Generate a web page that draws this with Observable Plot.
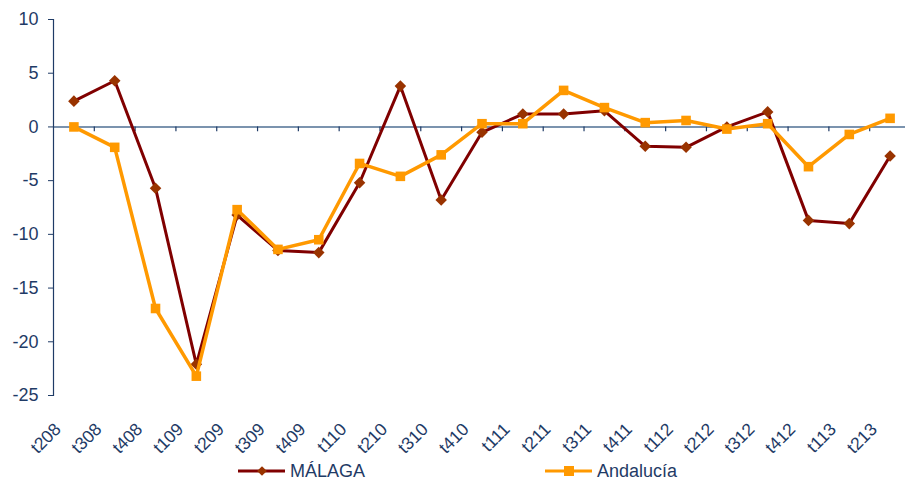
<!DOCTYPE html>
<html>
<head>
<meta charset="utf-8">
<script src="https://cdn.jsdelivr.net/npm/d3@7"></script>
<script src="https://cdn.jsdelivr.net/npm/@observablehq/plot@0.6"></script>
<style>
  body { margin: 0; background: #fff; font-family: "Liberation Sans", Arial, sans-serif; }
  #wrap { position: relative; width: 905px; height: 481px; }
  #legend { position: absolute; left: 0; top: 456px; width: 905px; height: 25px; }
  #legend svg { display: block; }
</style>
</head>
<body>
<div id="wrap">
  <div id="chart"></div>
  <div id="legend"></div>
</div>
<script>
const quarters = ["t208","t308","t408","t109","t209","t309","t409","t110","t210","t310","t410","t111","t211","t311","t411","t112","t212","t312","t412","t113","t213"];
const malaga = [2.4, 4.3, -5.7, -22.1, -8.2, -11.5, -11.7, -5.2, 3.8, -6.8, -0.5, 1.2, 1.2, 1.5, -1.8, -1.9, 0.0, 1.4, -8.7, -9.0, -2.7];
const andalucia = [0.0, -1.9, -16.9, -23.2, -7.7, -11.4, -10.5, -3.4, -4.6, -2.6, 0.3, 0.3, 3.4, 1.8, 0.4, 0.6, -0.2, 0.3, -3.7, -0.7, 0.8];
const yTicks = [10, 5, 0, -5, -10, -15, -20, -25];
const seriesNames = ["MÁLAGA", "Andalucía"];

const navy = "#1f3b66";
const maroon = "#800000";
const maroonMarker = "#993300";
const orange = "#FF9900";

const dataM = quarters.map((q, i) => ({q, v: malaga[i]}));
const dataA = quarters.map((q, i) => ({q, v: andalucia[i]}));

const xRange = [53, 910];
const bw = (xRange[1] - xRange[0]) / quarters.length;

const chart = Plot.plot({
  width: 905,
  height: 456,
  marginLeft: 53,
  marginRight: 0,
  marginTop: 19,
  marginBottom: 61,
  style: {fontFamily: "'Liberation Sans', Arial, sans-serif", fontSize: "18px", color: navy, background: "#fff"},
  x: {type: "band", domain: quarters, range: xRange, padding: 0, round: false, label: null},
  y: {domain: [-25, 10], ticks: yTicks, label: null},
  marks: [
    Plot.ruleY([0], {stroke: "#4f6f93", strokeWidth: 1.5}),
    Plot.ruleX(quarters.slice(1), {x: d => d, y1: 0, y2: -0.45, dx: -bw / 2, stroke: navy, strokeWidth: 1.2}),
    Plot.frame({anchor: "left", stroke: navy, strokeWidth: 1.2}),
    Plot.axisY({ticks: yTicks, tickSize: 5, tickPadding: 10, fontSize: 18, stroke: navy, fill: navy, label: null, tickFormat: d => String(d)}),
    Plot.axisX({tickSize: 0, tickRotate: -45, tickPadding: 31, dx: -16, fontSize: 17.5, fill: navy, label: null}),
    Plot.line(dataM, {x: "q", y: "v", stroke: maroon, strokeWidth: 3}),
    Plot.dot(dataM, {x: "q", y: "v", symbol: "diamond2", r: 5.2, fill: maroonMarker, stroke: "none"}),
    Plot.line(dataA, {x: "q", y: "v", stroke: orange, strokeWidth: 3.5}),
    Plot.dot(dataA, {x: "q", y: "v", symbol: "square", r: 5.4, fill: orange, stroke: "none"})
  ]
});
document.getElementById("chart").appendChild(chart);

// Legend (below the chart)
const lsvg = d3.create("svg").attr("width", 905).attr("height", 25)
  .style("font-family", "'Liberation Sans', Arial, sans-serif").style("font-size", "18px");
function addItem(left, name, color, markerColor, kind) {
  const g = lsvg.append("g").attr("transform", `translate(${left},0)`);
  g.append("line").attr("x1", 0).attr("x2", 47).attr("y1", 15).attr("y2", 15).attr("stroke", color).attr("stroke-width", 3);
  if (kind === "diamond") {
    g.append("path").attr("d", d3.symbol(d3.symbolDiamond2, 60)()).attr("transform", "translate(24,15)").attr("fill", markerColor);
  } else {
    g.append("rect").attr("x", 19).attr("y", 10).attr("width", 10).attr("height", 10).attr("fill", markerColor);
  }
  g.append("text").attr("x", 52).attr("y", 21).attr("fill", navy).text(name);
}
addItem(238, seriesNames[0], maroon, maroonMarker, "diamond");
addItem(545, seriesNames[1], orange, orange, "square");
document.getElementById("legend").appendChild(lsvg.node());
</script>
</body>
</html>
